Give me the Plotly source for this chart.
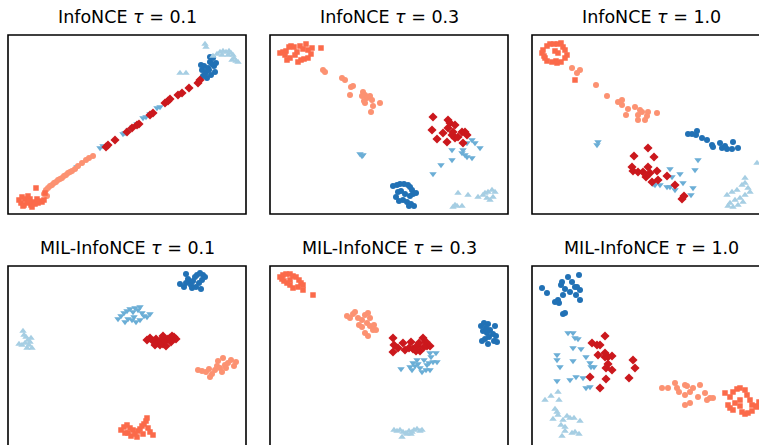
import plotly.graph_objects as go

# ---------------- data (2-D embedding coordinates per panel) ----------------
titles = ["InfoNCE <i>τ</i> = 0.1", "InfoNCE <i>τ</i> = 0.3", "InfoNCE <i>τ</i> = 1.0",
          "MIL-InfoNCE <i>τ</i> = 0.1", "MIL-InfoNCE <i>τ</i> = 0.3", "MIL-InfoNCE <i>τ</i> = 1.0"]

# Panel 1: InfoNCE tau=0.1
p1_sq = [(19,200),(22,197),(25,199),(28,196),(30,199),(21,203),(24,205),(27,203),(31,205),(33,202),(35,204),
         (38,203),(40,201),(42,202),(44,200),(37,199),(36,188),(45,193),(32,207),(29,201),(23,206)]
p1_sal = [(46,190),(48,188),(50,186),(52,185),(54,183),(56,182),(58,180),(60,179),(62,178),(64,176),(66,175),
          (68,173),(70,172),(72,171),(75,169),(78,166),(82,163),(86,160),(89,158),(93,156),(47,196),(44,194)]
p1_tdn = [(77,167),(100,148),(103,146),(123,134),(125,133),(129,130),(133,127),(137,124),(143,118),(146,117),
          (150,114),(157,108),(160,107)]
p1_dia = [(106,147),(108,145),(115,140),(127,132),(132,128),(137,125),(139,124),(150,115),(153,113),(165,103),
          (168,101),(170,99),(178,95),(182,93),(189,88),(198,83),(200,80)]
p1_circ = [(202,70),(204,66),(206,72),(208,68),(210,62),(212,64),(213,58),(210,57),(214,66),(216,63),(215,72),
           (211,75),(207,78),(205,74),(203,76),(209,70),(201,65)]
p1_tup = [(205,44),(206,47),(213,56),(217,54),(220,52),(223,51),(226,52),(229,51),(231,53),(233,55),(234,58),
          (236,61),(232,60),(228,55),(222,55),(180,73),(186,73),(238,62)]

# Panel 2: InfoNCE tau=0.3
p2_sq = [(280,53),(283,52),(286,51),(289,47),(291,46),(294,47),(297,52),(300,46),(303,49),(306,44),(308,50),
         (311,54),(312,48),(287,60),(290,58),(298,62),(301,60),(304,59),(308,58),(321,48),(285,55),(295,55)]
p2_sal = [(323,70),(325,72),(342,78),(345,80),(351,87),(350,95),(353,86),(363,92),(365,95),(362,96),(367,98),
          (370,96),(372,100),(380,103),(373,106),(365,103),(371,112),(364,101)]
p2_dia = [(433,117),(448,120),(450,123),(448,128),(455,125),(453,132),(452,135),(462,132),(465,132),(432,130),
          (437,139),(447,142),(455,138),(458,137),(467,135),(463,143),(443,133)]
p2_tdn = [(360,154),(362,156),(363,155),(467,143),(472,140),(475,143),(480,148),(463,150),(462,153),(465,155),
          (472,158),(467,157),(452,150),(452,160),(441,165),(433,174)]
p2_circ = [(393,186),(397,185),(400,184),(404,184),(408,185),(410,187),(412,190),(413,194),(416,193),(410,196),
           (405,194),(401,191),(398,192),(396,197),(403,200),(407,202),(411,204),(414,206),(409,206),(399,201)]
p2_tup = [(458,193),(468,195),(478,197),(483,195),(485,193),(488,192),(492,190),(495,192),(493,197),(490,200),
          (487,198),(455,205),(453,207),(457,206),(462,206)]

# Panel 3: InfoNCE tau=1.0
p3_sq = [(542,53),(543,50),(547,46),(550,44),(554,44),(558,44),(561,43),(563,47),(565,50),(567,55),(565,58),
         (561,62),(557,63),(556,61),(552,62),(547,61),(545,58),(544,56),(555,51),(558,53),(575,80)]
p3_sal = [(572,68),(580,70),(577,73),(596,85),(607,96),(618,102),(622,100),(622,105),(628,109),(635,107),
          (640,110),(642,112),(638,115),(648,112),(647,116),(645,120),(638,120),(626,115),(657,113)]
p3_tdn = [(598,142),(597,145),(670,169),(672,177),(680,174),(695,170),(698,160),(655,185),(660,185),(667,187),
          (670,187),(675,190),(683,183),(693,188),(691,195),(653,184)]
p3_dia = [(648,148),(634,156),(654,157),(632,167),(633,171),(638,172),(643,172),(648,167),(650,173),(657,171),
          (658,180),(652,182),(646,177),(667,176),(675,185),(684,196),(682,199)]
p3_circ = [(688,134),(692,134),(697,131),(696,135),(702,138),(707,140),(712,145),(713,147),(720,143),(722,148),
           (727,149),(725,146),(733,142),(732,149),(738,148)]
p3_tup = [(727,195),(732,192),(737,190),(742,185),(745,183),(748,188),(750,192),(745,195),(740,198),(735,200),
          (730,203),(728,206),(733,207),(738,205),(743,202),(745,178),(757,163)]

# Panel 4: MIL-InfoNCE tau=0.1
p4_circ = [(180,284),(184,287),(186,283),(189,281),(191,285),(193,281),(195,277),(197,275),(200,273),(203,275),
           (205,277),(202,280),(199,283),(196,287),(192,288),(188,279),(186,274),(201,289)]
p4_tdn = [(118,319),(121,316),(124,313),(127,311),(130,309),(133,312),(135,308),(138,310),(140,307),(142,313),
          (144,316),(147,317),(150,314),(140,320),(136,322),(132,320),(128,319),(125,322),(134,317)]
p4_dia = [(147,340),(150,338),(153,341),(156,339),(158,343),(161,340),(163,344),(165,341),(168,339),(170,338),
          (172,336),(174,337),(176,339),(171,342),(166,346),(160,345),(155,345),(163,336)]
p4_tup = [(23,331),(24,335),(26,337),(28,340),(30,342),(29,345),(32,348),(27,348),(22,345),(19,344),(25,343),(31,338)]
p4_sal = [(198,370),(202,371),(206,372),(209,369),(212,374),(215,370),(217,366),(220,368),(222,372),(225,365),
          (228,363),(226,368),(231,360),(234,366),(236,362),(210,377),(218,361),(223,358)]
p4_sq = [(121,430),(124,427),(127,425),(130,428),(133,430),(128,433),(131,436),(135,434),(138,431),(140,429),
         (142,426),(144,424),(146,421),(148,428),(150,432),(153,435),(143,434),(137,437),(125,433),(147,418)]

# Panel 5: MIL-InfoNCE tau=0.3
p5_sq = [(280,277),(283,275),(286,274),(290,274),(293,276),(296,277),(299,280),(301,283),(303,285),(298,287),
         (293,288),(290,285),(287,283),(284,281),(282,279),(290,280),(303,290),(313,295)]
p5_sal = [(347,316),(350,318),(353,314),(355,312),(358,318),(362,320),(365,315),(368,313),(370,318),(367,323),
          (370,326),(373,330),(376,330),(374,325),(362,327),(368,336),(365,333),(359,325)]
p5_dia = [(393,338),(394,345),(393,352),(398,348),(403,343),(405,350),(409,348),(411,342),(413,349),(417,346),
          (419,343),(420,351),(423,338),(426,342),(427,346),(430,346),(424,347),(416,351)]
p5_tdn = [(401,369),(410,367),(413,363),(417,360),(418,364),(420,368),(424,360),(427,365),(429,363),(431,357),
          (433,362),(430,370),(426,370),(422,372),(415,366),(436,353),(430,353),(437,362),(412,370)]
p5_circ = [(481,326),(484,323),(488,324),(495,326),(483,331),(487,333),(490,330),(493,334),(496,336),(489,337),
           (485,339),(494,341),(482,341),(488,344),(497,342),(486,328)]
p5_tup = [(394,430),(397,431),(400,430),(403,432),(406,433),(409,431),(412,432),(414,430),(417,429),(420,431),
          (422,430),(402,437),(407,434),(411,434)]

# Panel 6: MIL-InfoNCE tau=1.0
p6_circ = [(542,288),(547,293),(561,285),(562,282),(565,289),(568,277),(572,282),(575,287),(579,275),(580,290),
           (576,295),(570,292),(563,295),(558,300),(555,302),(559,303),(563,314),(565,313),(580,300),(577,287)]
p6_tdn = [(568,333),(573,333),(575,338),(578,339),(573,348),(581,349),(586,357),(557,355),(557,360),(560,367),
          (573,361),(590,363),(594,367),(576,377),(583,378),(557,381),(590,387),(586,388),(570,380),(591,367)]
p6_dia = [(605,336),(592,343),(597,345),(600,345),(598,355),(605,353),(605,357),(608,357),(612,356),(608,364),
          (612,370),(606,368),(590,377),(606,379),(600,388),(633,360),(635,368),(629,378)]
p6_tup = [(558,392),(551,396),(545,400),(559,400),(555,409),(557,412),(558,415),(563,420),(567,416),(570,418),
          (574,418),(580,421),(553,419),(561,425),(565,427),(565,431),(572,433),(575,432),(579,434),(562,436)]
p6_sal = [(662,388),(668,388),(675,383),(677,388),(679,392),(685,385),(687,386),(685,395),(690,392),(693,388),
          (700,385),(698,397),(705,393),(685,405),(690,403),(707,400),(713,398),(710,398)]
p6_sq = [(725,393),(730,397),(733,392),(737,389),(740,388),(745,390),(747,395),(750,400),(752,405),(756,406),
         (759,402),(740,400),(735,403),(740,406),(730,408),(728,405),(742,412),(745,414),(748,413),(752,411),
         (757,407),(733,410)]

# ---------------- styles ----------------
STY = {
    "circ": dict(color="#2171b5", symbol="circle", size=6),
    "tdn": dict(color="#6baed6", symbol="triangle-down", size=6.5),
    "tup": dict(color="#a6cee3", symbol="triangle-up", size=6.5),
    "dia": dict(color="#cb181d", symbol="diamond", size=7),
    "sal": dict(color="#fc9272", symbol="circle", size=6),
    "sq": dict(color="#fb6a4a", symbol="square", size=5.5),
}

panels = [
    dict(sq=p1_sq, sal=p1_sal, tdn=p1_tdn, dia=p1_dia, circ=p1_circ, tup=p1_tup),
    dict(sq=p2_sq, sal=p2_sal, tdn=p2_tdn, dia=p2_dia, circ=p2_circ, tup=p2_tup),
    dict(sq=p3_sq, sal=p3_sal, tdn=p3_tdn, dia=p3_dia, circ=p3_circ, tup=p3_tup),
    dict(sq=p4_sq, sal=p4_sal, tdn=p4_tdn, dia=p4_dia, circ=p4_circ, tup=p4_tup),
    dict(sq=p5_sq, sal=p5_sal, tdn=p5_tdn, dia=p5_dia, circ=p5_circ, tup=p5_tup),
    dict(sq=p6_sq, sal=p6_sal, tdn=p6_tdn, dia=p6_dia, circ=p6_circ, tup=p6_tup),
]

W, H = 759, 445
col_l = [8, 270, 532]
col_w = 238
row_t = [35, 266]
row_h = [179, 184]   # lower row's frame runs past the bottom edge of the window
title_y = [16.5, 248]

fig = go.Figure()
layout = dict(width=W, height=H, margin=dict(l=0, r=0, t=0, b=0), autosize=False,
              paper_bgcolor="white", plot_bgcolor="white", showlegend=False)
shapes, annotations = [], []

for i, pdata in enumerate(panels):
    r, c = divmod(i, 3)
    idx = "" if i == 0 else str(i + 1)
    x0, x1 = col_l[c], col_l[c] + col_w
    y0, y1 = row_t[r], row_t[r] + row_h[r]
    dx = [x0 / W, min(x1, W) / W]
    dy = [max(1 - y1 / H, 0.0), 1 - y0 / H]
    xr = [x0, min(x1, W)]
    yr = [min(y1, H), y0]
    layout["xaxis" + idx] = dict(domain=dx, range=xr, showgrid=False, zeroline=False,
                                 showticklabels=False, ticks="", anchor="y" + idx, fixedrange=True)
    layout["yaxis" + idx] = dict(domain=dy, range=yr, showgrid=False, zeroline=False,
                                 showticklabels=False, ticks="", anchor="x" + idx, fixedrange=True)
    for key in ["circ", "tdn", "tup", "dia", "sal", "sq"]:
        pts = pdata[key]
        s = STY[key]
        fig.add_trace(go.Scatter(
            x=[p[0] for p in pts], y=[p[1] for p in pts], mode="markers",
            xaxis="x" + idx, yaxis="y" + idx, hoverinfo="skip",
            marker=dict(color=s["color"], symbol=s["symbol"], size=s["size"], line=dict(width=0))))
    shapes.append(dict(type="rect", xref="paper", yref="paper",
                       x0=x0 / W, x1=x1 / W, y0=1 - y1 / H, y1=1 - y0 / H,
                       line=dict(color="black", width=1.6), fillcolor="rgba(0,0,0,0)", layer="above"))
    annotations.append(dict(text=titles[i], xref="paper", yref="paper",
                            x=(x0 + x1) / 2 / W, y=1 - title_y[r] / H,
                            xanchor="center", yanchor="middle", showarrow=False,
                            font=dict(family="DejaVu Sans", size=17.5, color="black")))

layout["shapes"] = shapes
layout["annotations"] = annotations
fig.update_layout(**layout)
fig.write_html("out.html", config={"displayModeBar": False},
               post_script="document.body.style.margin='0';document.body.style.overflow='hidden';")
